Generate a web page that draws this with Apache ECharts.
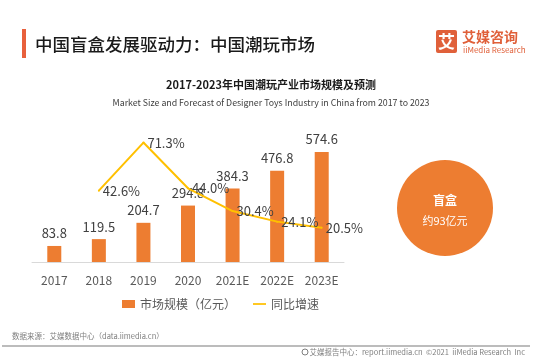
<!DOCTYPE html>
<html>
<head>
<meta charset="utf-8">
<script src="https://cdn.jsdelivr.net/npm/echarts@6/dist/echarts.min.js"></script>
<style>html,body{margin:0;padding:0;background:#fff}#c{width:550px;height:364px}</style>
</head>
<body>
<div id="c"></div>
<script>
const categories = ['2017', '2018', '2019', '2020', '2021E', '2022E', '2023E'];
const marketSize = [83.8, 119.5, 204.7, 294.8, 384.3, 476.8, 574.6];
const growthRate = ['-', 42.6, 71.3, 44.0, 30.4, 24.1, 20.5];
const seriesNames = ['市场规模（亿元）', '同比增速'];

const FONT = '"Noto Sans CJK SC", "Noto Sans", sans-serif';
const chart = echarts.init(document.getElementById('c'), null, {renderer: 'canvas'});
chart.setOption({
  backgroundColor: '#fff',
  textStyle: {fontFamily: FONT},
  animation: false,
  grid: {left: 32, right: 206, top: 128, bottom: 102},
  legend: {
    left: 117, top: 293, itemWidth: 13, itemHeight: 8, itemGap: 17,
    textStyle: {fontSize: 12, color: '#595959', fontFamily: FONT},
    data: [{name: seriesNames[0], icon: 'rect'}, {name: seriesNames[1], icon: 'path://M0,0h60v8h-60z'}]
  },
  xAxis: {
    type: 'category', data: categories,
    axisLine: {lineStyle: {color: '#d9d9d9', width: 1}},
    axisTick: {show: false},
    axisLabel: {fontSize: 12, color: '#595959', margin: 12, fontFamily: FONT}
  },
  yAxis: [
    {type: 'value', min: 0, max: 700, show: false, splitLine: {show: false}},
    {type: 'value', min: 0, max: 80, show: false, splitLine: {show: false}}
  ],
  series: [
    {
      name: seriesNames[0], type: 'bar', data: marketSize, barWidth: 14,
      itemStyle: {color: '#ED7D31'},
      label: {show: true, position: 'top', distance: 6, fontSize: 13, color: '#404040', fontFamily: FONT}
    },
    {
      name: seriesNames[1], type: 'line', yAxisIndex: 1, data: growthRate,
      smooth: false, symbol: 'circle', symbolSize: 2, showSymbol: true,
      lineStyle: {color: '#FFC000', width: 2}, itemStyle: {color: '#FFC000'},
      label: {show: true, position: 'right', distance: 3, fontSize: 13, color: '#404040',
        fontFamily: FONT, formatter: p => (typeof p.value === 'number' ? p.value.toFixed(1) + '%' : '')}
    }
  ],
  graphic: [
    {type: 'rect', shape: {x: 22, y: 29, width: 4, height: 29}, style: {fill: '#E8603C'}},
    {type: 'text', x: 35, y: 44, style: {text: '中国盲盒发展驱动力：中国潮玩市场', font: '500 17.5px ' + FONT, fill: '#1a1a1a', verticalAlign: 'middle'}},
    {type: 'rect', shape: {x: 436, y: 30, width: 21, height: 23, r: 2}, style: {fill: '#E0603A'}},
    {type: 'text', x: 446.5, y: 42, style: {text: '艾', font: 'bold 17px ' + FONT, fill: '#fff', align: 'center', verticalAlign: 'middle'}},
    {type: 'text', x: 462, y: 37, style: {text: '艾媒咨询', font: 'bold 14px ' + FONT, fill: '#E0603A', verticalAlign: 'middle'}},
    {type: 'text', x: 463, y: 50, style: {text: 'iiMedia Research', font: '8px ' + FONT, fill: '#E0603A', verticalAlign: 'middle'}},
    {type: 'text', x: 271, y: 85, style: {text: '2017-2023年中国潮玩产业市场规模及预测', font: 'bold 11px ' + FONT, fill: '#1a1a1a', align: 'center', verticalAlign: 'middle'}},
    {type: 'text', x: 271, y: 103, style: {text: 'Market Size and Forecast of Designer Toys Industry in China from 2017 to 2023', font: '8.8px ' + FONT, fill: '#404040', align: 'center', verticalAlign: 'middle'}},
    {type: 'circle', shape: {cx: 445, cy: 208, r: 48}, style: {fill: '#ED7D31'}},
    {type: 'text', x: 445, y: 200, style: {text: '盲盒', font: 'bold 12px ' + FONT, fill: '#fff', align: 'center', verticalAlign: 'middle'}},
    {type: 'text', x: 445, y: 221, style: {text: '约93亿元', font: '11px ' + FONT, fill: '#fff', align: 'center', verticalAlign: 'middle'}},
    {type: 'text', x: 12, y: 336, style: {text: '数据来源：艾媒数据中心（data.iimedia.cn）', font: '7.5px ' + FONT, fill: '#7f7f7f', verticalAlign: 'middle'}},
    {type: 'line', shape: {x1: 2, y1: 346, x2: 530, y2: 346}, style: {stroke: '#a6a6a6', lineWidth: 1.5}},
    {type: 'circle', shape: {cx: 305, cy: 352, r: 3}, style: {fill: 'none', stroke: '#7f7f7f', lineWidth: 1}},
    {type: 'text', x: 525, y: 352, style: {text: '艾媒报告中心：report.iimedia.cn  ©2021  iiMedia Research  Inc', font: '7.5px ' + FONT, fill: '#7f7f7f', align: 'right', verticalAlign: 'middle'}}
  ]
});
</script>
</body>
</html>
